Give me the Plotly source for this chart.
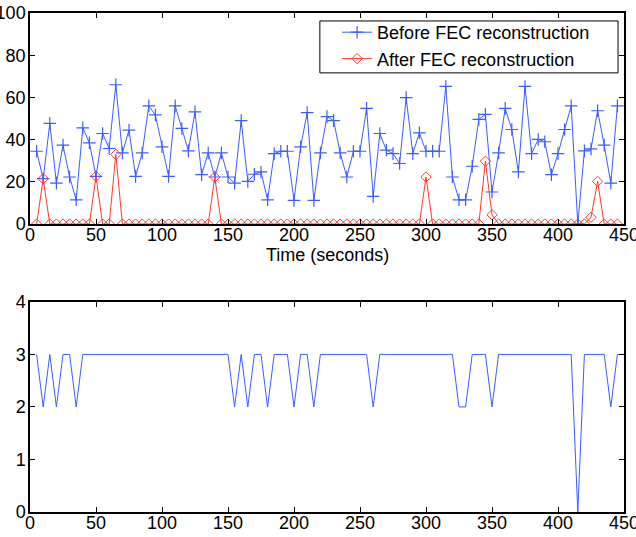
import plotly.graph_objects as go
from plotly.subplots import make_subplots

# time stamps (seconds), one sample every 5 s
time_s = [5 * i for i in range(1, 90)]

before_fec = [34.5, 21.5, 47.7, 19.4, 37.4, 22.3, 11.5, 45.6, 38.5, 22.6,
              42.9, 35.8, 66.0, 33.7, 44.5, 22.6, 33.7, 56.0, 51.7, 36.6,
              22.6, 56.0, 45.3, 34.7, 53.2, 23.4, 33.7, 22.3, 33.7, 22.3,
              19.4, 49.0, 20.2, 23.6, 24.7, 11.5, 33.4, 34.5, 34.5, 11.2,
              36.6, 52.8, 11.2, 33.7, 50.9, 49.0, 33.7, 22.3, 34.5, 34.5,
              54.8, 13.1, 42.9, 35.0, 33.4, 28.7, 59.9, 33.4, 43.2, 34.5,
              34.5, 34.5, 65.2, 22.3, 11.5, 11.5, 27.4, 49.6, 52.0, 15.2,
              33.7, 54.8, 44.8, 24.7, 65.2, 33.4, 40.1, 39.0, 23.4, 33.4,
              44.8, 56.0, 0.0, 34.7, 35.6, 53.7, 37.4, 19.4, 56.0]

after_nonzero = {10: 21.5, 50: 22.6, 65: 33.0, 140: 22.3, 300: 22.3,
                 345: 29.8, 350: 4.4, 425: 3.2, 430: 20.2}
after_fec = [after_nonzero.get(t, 0.0) for t in time_s]

bottom_time = [5 * i for i in range(1, 91)]
level_two = [10, 20, 35, 155, 165, 180, 200, 215, 260, 325, 330, 350, 440]
level_zero = [415]
bottom_vals = [0 if t in level_zero else (2 if t in level_two else 3) for t in bottom_time]

x_title = "Time (seconds)"

blue = "#3d5cff"
red = "#ff3b2b"
font_family = "Liberation Sans, Arial, sans-serif"

fig = make_subplots(rows=2, cols=1, vertical_spacing=0.156)

fig.add_trace(go.Scatter(
    x=time_s, y=before_fec, mode="lines+markers", name="Before FEC reconstruction",
    line=dict(color=blue, width=1),
    marker=dict(symbol="cross-thin", size=9, line=dict(color=blue, width=1.2), color=blue)),
    row=1, col=1)
fig.add_trace(go.Scatter(
    x=time_s, y=after_fec, mode="lines+markers", name="After FEC reconstruction",
    line=dict(color=red, width=1),
    marker=dict(symbol="diamond-open", size=8, color=red, line=dict(width=1))),
    row=1, col=1)
fig.add_trace(go.Scatter(
    x=bottom_time, y=bottom_vals, mode="lines", showlegend=False,
    line=dict(color=blue, width=1)), row=2, col=1)

axis_common = dict(showline=True, linecolor="black", linewidth=1.5, mirror="ticks",
                   ticks="inside", ticklen=5, tickcolor="black", tickwidth=1,
                   showgrid=False, zeroline=False, automargin=False,
                   ticklabeloverflow="allow",
                   tickfont=dict(size=18, color="black", family=font_family))

fig.update_xaxes(range=[0, 450], dtick=50, tick0=0, ticklabelstandoff=-6, **axis_common)
fig.update_yaxes(ticklabelstandoff=-1, **axis_common)
fig.update_yaxes(range=[0, 100], dtick=20, row=1, col=1)
fig.update_yaxes(range=[0, 4], dtick=1, row=2, col=1)

# legend frame
fig.add_shape(type="rect", xref="paper", yref="paper",
              x0=0.488, x1=0.990, y0=0.880, y1=0.984,
              line=dict(color="black", width=1), fillcolor="white", layer="above")

fig.add_annotation(text=x_title, xref="paper", yref="paper", x=0.5, y=0.516,
                   xanchor="center", yanchor="middle", showarrow=False,
                   font=dict(size=18, color="black", family=font_family))

fig.update_layout(
    width=636, height=537,
    margin=dict(l=30, r=12, t=13, b=25),
    paper_bgcolor="white", plot_bgcolor="white",
    font=dict(family=font_family, size=18, color="black"),
    legend=dict(x=0.517, y=0.998, xanchor="left", yanchor="top",
                borderwidth=0, bgcolor="rgba(0,0,0,0)",
                font=dict(size=18, color="black", family=font_family),
                tracegroupgap=0),
)
fig.layout.yaxis.domain = [0.577, 1.0]
fig.layout.yaxis2.domain = [0.0, 0.421]

fig.write_html("out.html", config={"displayModeBar": False},
               post_script="document.body.style.margin='0';document.body.style.overflow='hidden';")
